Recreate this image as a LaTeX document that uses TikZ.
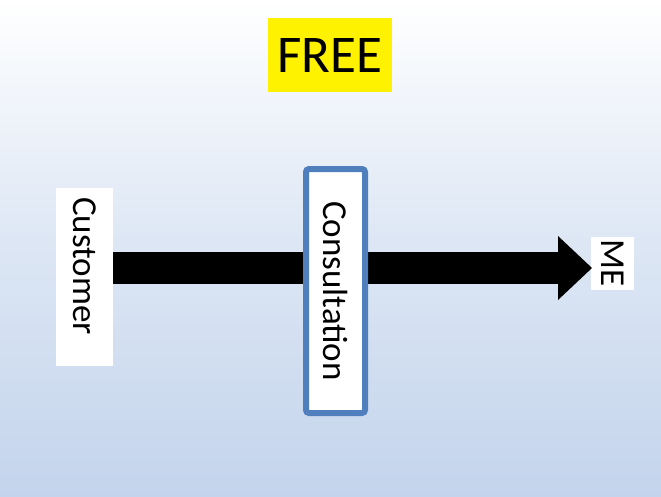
\documentclass[tikz,border=0pt]{standalone}
\usepackage{fontspec}
\setmainfont{Carlito}
\begin{document}
\begin{tikzpicture}[x=1pt,y=-1pt,
  box/.style={fill=white,inner sep=0pt},
  lbl/.style={rotate=-90,inner sep=0pt,font=\fontsize{35}{35}\selectfont}]
\useasboundingbox (0,0) rectangle (661,496);
\shade[top color=white,bottom color={rgb,255:red,196;green,212;blue,236},middle color={rgb,255:red,220;green,230;blue,244}] (0,0) rectangle (661,496);
\node[fill=yellow,minimum width=124,minimum height=74,inner sep=0pt,font=\fontsize{53}{53}\selectfont] (free) at (330,55) {FREE};
\node[box,minimum width=57,minimum height=178] (cust) at (84.5,277) {};
\node[lbl] (custt) at (84.5,266) {Customer};
\node[box,minimum width=43,minimum height=53] (me) at (612.5,263.5) {};
\node[lbl] (met) at (me) {ME};
\fill[black] (cust.east |- 0,252) rectangle (558,284);
\fill[black] (558,236) -- (592,268) -- (558,300) -- cycle;
\node[box,draw={rgb,255:red,79;green,127;blue,189},line width=6,rounded corners=3,minimum width=59,minimum height=244] (cons) at (335.5,291) {};
\node[lbl] (const) at (cons) {Consultation};
\end{tikzpicture}
\end{document}
